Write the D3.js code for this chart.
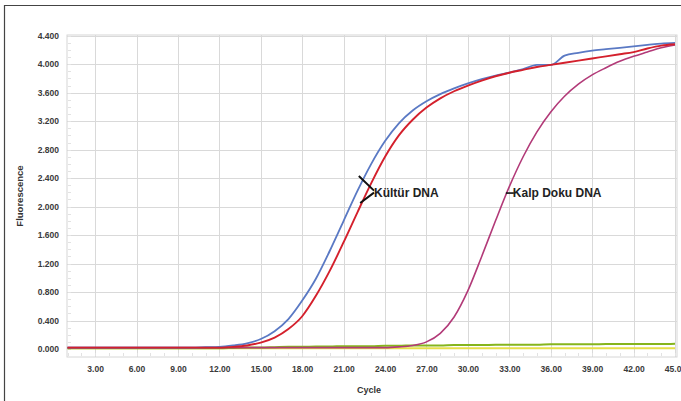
<!DOCTYPE html>
<html>
<head>
<meta charset="utf-8">
<script src="https://cdn.jsdelivr.net/npm/d3@7"></script>
<style>
  body { margin: 0; background: #fff; }
  svg { display: block; }
</style>
</head>
<body>
<svg id="chart" width="681" height="401"></svg>
<script>
// cycles 1..45
var cycles = d3.range(1, 46);

var kulturBlue = [0.02,0.02,0.02,0.02,0.02,0.02,0.02,0.02,0.02,0.02,
  0.025,0.03,0.05,0.08,0.14,0.25,0.42,0.68,0.99,1.38,
  1.8,2.22,2.6,2.92,3.17,3.35,3.48,3.58,3.66,3.73,
  3.79,3.84,3.88,3.93,3.99,3.99,4.12,4.16,4.19,4.21,
  4.23,4.25,4.27,4.29,4.30];

var kulturRed = [0.02,0.02,0.02,0.02,0.02,0.02,0.02,0.02,0.02,0.02,
  0.02,0.02,0.03,0.05,0.09,0.16,0.28,0.46,0.75,1.1,
  1.5,1.92,2.33,2.7,3.0,3.22,3.39,3.52,3.62,3.7,
  3.77,3.83,3.88,3.92,3.96,3.99,4.02,4.05,4.08,4.11,
  4.14,4.17,4.22,4.26,4.28];

var kalpDoku = [0.02,0.02,0.02,0.02,0.02,0.02,0.02,0.02,0.02,0.02,
  0.02,0.02,0.02,0.02,0.02,0.02,0.02,0.02,0.02,0.02,
  0.02,0.02,0.02,0.02,0.03,0.05,0.1,0.22,0.45,0.82,
  1.3,1.8,2.28,2.7,3.05,3.33,3.55,3.72,3.85,3.95,
  4.04,4.11,4.17,4.23,4.27];

var negYellow = [0.01,0.01,0.01,0.01,0.01,0.01,0.01,0.01,0.01,0.01,
  0.01,0.01,0.01,0.01,0.01,0.01,0.01,0.01,0.01,0.01,
  0.01,0.01,0.01,0.01,0.01,0.01,0.01,0.01,0.01,0.01,
  0.01,0.01,0.01,0.01,0.01,0.01,0.01,0.01,0.01,0.01,
  0.01,0.01,0.01,0.01,0.01];

var negGreen = [0.01,0.01,0.01,0.01,0.01,0.01,0.01,0.01,0.01,0.01,
  0.01,0.01,0.015,0.02,0.02,0.025,0.03,0.03,0.035,0.035,
  0.04,0.04,0.04,0.045,0.045,0.05,0.05,0.05,0.055,0.055,
  0.055,0.06,0.06,0.06,0.06,0.065,0.065,0.065,0.065,0.07,
  0.07,0.07,0.07,0.07,0.075];

var xTicks = [3,6,9,12,15,18,21,24,27,30,33,36,39,42,45];
var yTicks = [0,0.4,0.8,1.2,1.6,2.0,2.4,2.8,3.2,3.6,4.0,4.4];

var series = [
  {name: "neg-y", values: negYellow, color: "#e6df4a", width: 2},
  {name: "neg-g", values: negGreen, color: "#86b51c", width: 2},
  {name: "kalp", values: kalpDoku, color: "#b23a78", width: 1.6},
  {name: "blue", values: kulturBlue, color: "#5a79c4", width: 1.8},
  {name: "red", values: kulturRed, color: "#d4202c", width: 1.9}
];

var svg = d3.select("#chart"),
  plot = {left: 67, right: 677, top: 35, bottom: 357};

var x = d3.scaleLinear().domain([1, 45]).range([67.5, 675]);
var y = d3.scaleLinear().domain([0, 4.4]).range([349, 35.7]);

var font = "Arial, 'Liberation Sans', sans-serif";

// outer frame (only top/left visible)
svg.append("path")
  .attr("d", "M4.5,401 V5.5 H681")
  .attr("fill", "none")
  .attr("stroke", "#444")
  .attr("stroke-width", 1.2);

// plot frame
svg.append("rect")
  .attr("x", plot.left).attr("y", plot.top)
  .attr("width", plot.right - plot.left)
  .attr("height", plot.bottom - plot.top)
  .attr("fill", "#fff")
  .attr("stroke", "#d6d6d6");

// grid
svg.append("g").selectAll("line")
  .data(yTicks.slice(1))
  .enter().append("line")
  .attr("x1", plot.left).attr("x2", plot.right)
  .attr("y1", d => Math.round(y(d)) + 0.5).attr("y2", d => Math.round(y(d)) + 0.5)
  .attr("stroke", "#d9d9d9");

svg.append("g").selectAll("line")
  .data(xTicks)
  .enter().append("line")
  .attr("x1", d => Math.round(x(d)) + 0.5).attr("x2", d => Math.round(x(d)) + 0.5)
  .attr("y1", plot.top).attr("y2", plot.bottom)
  .attr("stroke", "#d9d9d9");

// minor dotted ticks along the left and bottom edges
var minorY = d3.range(0, 4.41, 0.1);
svg.append("g").selectAll("line")
  .data(minorY)
  .enter().append("line")
  .attr("x1", plot.left + 1).attr("x2", plot.left + 4)
  .attr("y1", d => Math.round(y(d)) + 0.5).attr("y2", d => Math.round(y(d)) + 0.5)
  .attr("stroke", "#e2e2e2");

var minorX = d3.range(1, 45.01, 1);
svg.append("g").selectAll("line")
  .data(minorX)
  .enter().append("line")
  .attr("x1", d => Math.round(x(d)) + 0.5).attr("x2", d => Math.round(x(d)) + 0.5)
  .attr("y1", plot.bottom - 4).attr("y2", plot.bottom - 1)
  .attr("stroke", "#e2e2e2");

// axes (labels only)
var yAxis = svg.append("g")
  .attr("transform", "translate(59,0)")
  .call(d3.axisLeft(y).tickValues(yTicks).tickFormat(d3.format(".3f")).tickSize(0).tickPadding(0));
yAxis.select(".domain").remove();
yAxis.selectAll("text")
  .attr("font-family", font)
  .attr("font-size", "8.5px")
  .attr("font-weight", "bold")
  .attr("fill", "#3a3a3a");

var xAxis = svg.append("g")
  .attr("transform", "translate(0,366)")
  .call(d3.axisBottom(x).tickValues(xTicks).tickFormat(d3.format(".2f")).tickSize(0).tickPadding(0));
xAxis.select(".domain").remove();
xAxis.selectAll("text")
  .attr("font-family", font)
  .attr("font-size", "8.5px")
  .attr("font-weight", "bold")
  .attr("fill", "#3a3a3a");

// axis titles
svg.append("text")
  .attr("x", 369).attr("y", 393)
  .attr("text-anchor", "middle")
  .attr("font-family", font)
  .attr("font-size", "9px")
  .attr("font-weight", "bold")
  .attr("fill", "#333")
  .text("Cycle");

svg.append("text")
  .attr("transform", "translate(23,196) rotate(-90)")
  .attr("text-anchor", "middle")
  .attr("font-family", font)
  .attr("font-size", "9.5px")
  .attr("font-weight", "bold")
  .attr("fill", "#333")
  .text("Fluorescence");

// curves
var line = d3.line()
  .x((d, i) => x(cycles[i]))
  .y(d => y(d))
  .curve(d3.curveMonotoneX);

svg.append("g").selectAll("path")
  .data(series)
  .enter().append("path")
  .attr("d", d => line(d.values))
  .attr("fill", "none")
  .attr("stroke", d => d.color)
  .attr("stroke-width", d => d.width)
  .attr("stroke-linejoin", "round");

// annotations: ">" bracket pointing at the two Kültür curves
var kx = x(23.2), ky = y(2.21);
svg.append("path")
  .attr("d", "M" + x(22.1) + "," + y(2.43) + " L" + kx + "," + (ky - 1) +
             " M" + kx + "," + (ky + 1) + " L" + x(22.2) + "," + y(2.05))
  .attr("fill", "none")
  .attr("stroke", "#111")
  .attr("stroke-width", 2);
svg.append("text")
  .attr("x", kx).attr("y", ky + 5)
  .attr("font-family", font)
  .attr("font-size", "12px")
  .attr("font-weight", "bold")
  .attr("fill", "#222")
  .text("Kültür DNA");

var lx = x(32.75), ly = y(2.19);
svg.append("line")
  .attr("x1", lx).attr("x2", lx + 8)
  .attr("y1", ly).attr("y2", ly)
  .attr("stroke", "#111")
  .attr("stroke-width", 1.6);
svg.append("text")
  .attr("x", lx + 7).attr("y", ly + 4)
  .attr("font-family", font)
  .attr("font-size", "12px")
  .attr("font-weight", "bold")
  .attr("fill", "#222")
  .text("Kalp Doku DNA");
</script>
</body>
</html>
